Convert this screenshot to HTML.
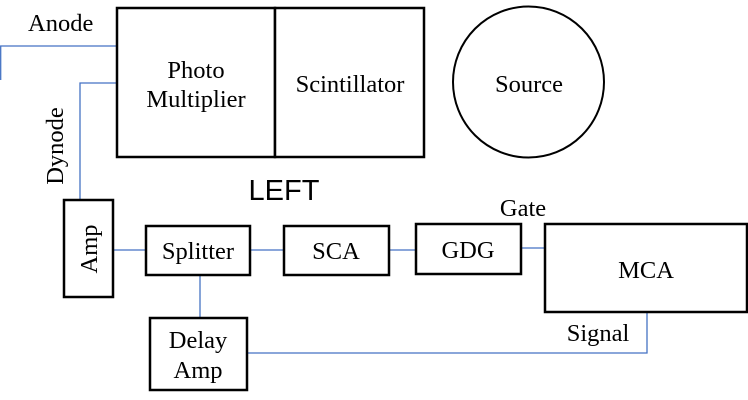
<!DOCTYPE html>
<html><head><meta charset="utf-8"><style>
html,body{margin:0;padding:0;background:#fff;}
svg{display:block;}
text{font-family:"Liberation Serif",serif;font-size:24.5px;fill:#000;}
</style></head><body>
<svg width="748" height="400" viewBox="0 0 748 400" xmlns="http://www.w3.org/2000/svg">
<g stroke="#4472c4" stroke-width="1.3" fill="none">
<polyline points="0.7,80 0.7,46 117,46"/>
<polyline points="117,83 80,83 80,200"/>
<line x1="113" y1="250" x2="146" y2="250"/>
<line x1="250" y1="250" x2="284" y2="250"/>
<line x1="389" y1="250" x2="416" y2="250"/>
<line x1="521" y1="248" x2="545" y2="248"/>
<line x1="200" y1="275" x2="200" y2="318"/>
<polyline points="247,353 647,353 647,312"/>
</g>
<g stroke="#000" stroke-width="2.5" fill="#fff">
<rect x="117" y="8" width="158" height="149"/>
<rect x="275" y="8" width="149" height="149"/>
<circle cx="528.5" cy="82" r="75.5" stroke-width="2"/>
<rect x="64" y="200" width="49" height="97"/>
<rect x="146" y="226" width="104" height="49"/>
<rect x="284" y="226" width="105" height="49"/>
<rect x="416" y="224" width="105" height="50"/>
<rect x="545" y="224" width="202" height="88"/>
<rect x="150" y="318" width="97" height="72"/>
</g>
<text x="28" y="31">Anode</text>
<text x="196" y="78" text-anchor="middle">Photo</text>
<text x="196" y="107" text-anchor="middle">Multiplier</text>
<text x="350" y="92" text-anchor="middle">Scintillator</text>
<text x="529" y="92" text-anchor="middle">Source</text>
<text transform="translate(63,146) rotate(-90)" text-anchor="middle">Dynode</text>
<text transform="translate(97,249) rotate(-90)" text-anchor="middle">Amp</text>
<text x="284" y="200" text-anchor="middle" style="font-family:'Liberation Sans',sans-serif;font-size:29px">LEFT</text>
<text x="198" y="259" text-anchor="middle">Splitter</text>
<text x="336" y="259" text-anchor="middle">SCA</text>
<text x="468" y="258" text-anchor="middle">GDG</text>
<text x="523" y="216" text-anchor="middle">Gate</text>
<text x="646" y="278" text-anchor="middle">MCA</text>
<text x="598" y="341" text-anchor="middle">Signal</text>
<text x="198" y="348" text-anchor="middle">Delay</text>
<text x="198" y="378" text-anchor="middle">Amp</text>
</svg>
</body></html>
